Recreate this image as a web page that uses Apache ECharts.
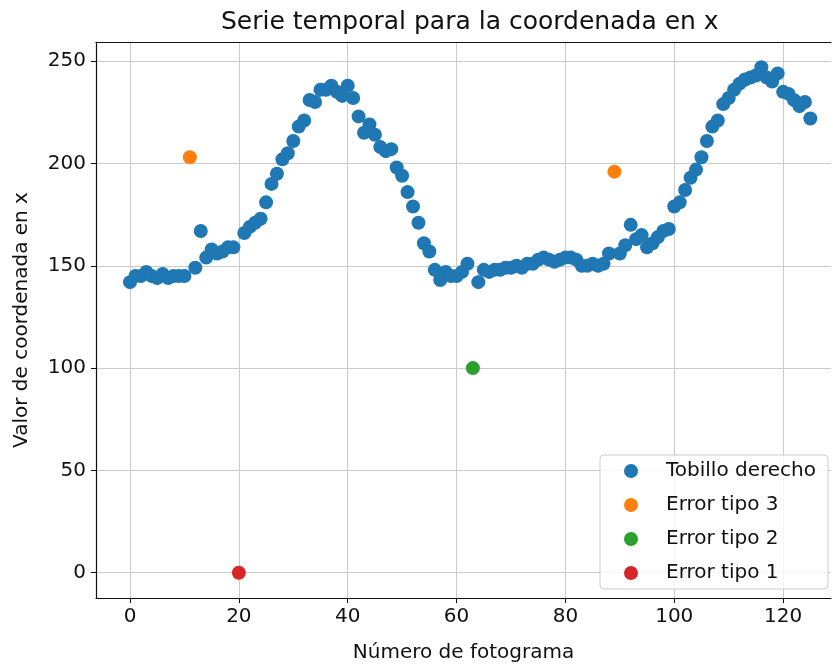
<!DOCTYPE html>
<html>
<head>
<meta charset="utf-8">
<script src="https://cdn.jsdelivr.net/npm/echarts@6/dist/echarts.min.js"></script>
<style>
  html, body { margin: 0; padding: 0; background: #fff; }
  #chart { width: 833px; height: 666px; }
</style>
</head>
<body>
<div id="chart"></div>
<script>
// Frame numbers and x coordinate of the right ankle
const tobilloFrames = [
  0, 1, 2, 3, 4, 5, 6, 7, 8, 9, 10,
  12, 13, 14, 15, 16, 17, 18, 19,
  21, 22, 23, 24, 25, 26, 27, 28, 29, 30, 31, 32, 33, 34, 35, 36, 37, 38, 39, 40,
  41, 42, 43, 44, 45, 46, 47, 48, 49, 50, 51, 52, 53, 54, 55, 56, 57, 58, 59, 60, 61, 62,
  64, 65, 66, 67, 68, 69, 70, 71, 72, 73, 74, 75, 76, 77, 78, 79, 80, 81, 82, 83, 84, 85, 86, 87, 88,
  90, 91, 92, 93, 94, 95, 96, 97, 98, 99, 100, 101, 102, 103, 104, 105, 106, 107, 108, 109, 110,
  111, 112, 113, 114, 115, 116, 117, 118, 119, 120, 121, 122, 123, 124, 125
];
const tobilloValues = [
  142, 145, 145, 147, 145, 144, 146, 144, 145, 145, 145,
  149, 167, 154, 158, 156, 157, 159, 159,
  166, 169, 171, 173, 181, 190, 195, 202, 205, 211, 218, 221, 231, 230, 236, 236, 238, 235, 233, 238,
  232, 223, 215, 219, 214, 208, 206, 207, 198, 194, 186, 179, 171, 161, 157, 148, 143, 147, 145, 145, 147, 151,
  142, 148, 147, 148, 148, 149, 149, 150, 149, 151, 151, 153, 154, 153, 152, 153, 154, 154, 153, 150, 150, 151, 150, 151, 156,
  156, 160, 170, 163, 165, 159, 161, 164, 167, 168, 179, 181, 187, 193, 197, 203, 211, 218, 221, 229, 232,
  236, 239, 241, 242, 243, 247, 242, 240, 244, 235, 234, 231, 228, 230, 222
];

// Flagged frames for each error type
const error3Frames = [11, 89];
const error3Values = [203, 196];
const error2Frames = [63];
const error2Values = [100];
const error1Frames = [20];
const error1Values = [0];

// Axis ticks
const xTicks = [0, 20, 40, 60, 80, 100, 120];
const yTicks = [0, 50, 100, 150, 200, 250];

const pairs = (xs, ys) => xs.map((x, i) => [x, ys[i]]);

const FONT = 'DejaVu Sans';
const INK = '#111';
const gridColor = '#cbcbcb';
const X_MIN = -6.25, X_MAX = 128.8;
const Y_MIN = -12.35, Y_MAX = 259.35;

const chart = echarts.init(document.getElementById('chart'), null, { renderer: 'canvas' });

const scatter = (name, color, xs, ys, z) => ({
  name,
  type: 'scatter',
  xAxisIndex: 0,
  yAxisIndex: 0,
  symbolSize: 14,
  itemStyle: { color, opacity: 1 },
  data: pairs(xs, ys),
  z
});

chart.setOption({
  backgroundColor: '#ffffff',
  animation: false,
  textStyle: { fontFamily: FONT },
  title: {
    text: 'Serie temporal para la coordenada en x',
    left: 216,
    top: 5,
    textStyle: { fontFamily: FONT, fontSize: 25, fontWeight: 'normal', color: INK }
  },
  grid: {
    left: 96,
    top: 42,
    width: 735,
    height: 556,
    outerBoundsMode: 'none',
    containLabel: false,
    show: false
  },
  legend: {
    orient: 'vertical',
    left: 600,
    top: 455,
    icon: 'circle',
    itemWidth: 60,
    itemHeight: 14,
    itemGap: 12,
    padding: [5, 12, 5, 24],
    backgroundColor: 'rgba(255,255,255,0.8)',
    borderColor: '#cccccc',
    borderWidth: 1,
    borderRadius: 4,
    textStyle: { fontFamily: FONT, fontSize: 20, color: INK, lineHeight: 22 },
    data: ['Tobillo derecho', 'Error tipo 3', 'Error tipo 2', 'Error tipo 1']
  },
  xAxis: [
    {
      type: 'value',
      min: X_MIN,
      max: X_MAX,
      name: 'Número de fotograma',
      nameLocation: 'middle',
      nameGap: 45,
      nameTextStyle: { fontFamily: FONT, fontSize: 20, color: INK },
      axisLine: { show: true, onZero: false, lineStyle: { color: INK, width: 1.2 } },
      axisTick: { show: true, customValues: xTicks, length: 5, lineStyle: { color: INK } },
      axisLabel: { customValues: xTicks, margin: 9, fontFamily: FONT, fontSize: 20, color: INK },
      splitLine: { show: true, lineStyle: { color: gridColor, width: 1 } }
    },
    {
      // top frame edge
      type: 'value',
      position: 'top',
      min: X_MIN,
      max: X_MAX,
      axisLine: { show: true, onZero: false, lineStyle: { color: INK, width: 1.2 } },
      axisTick: { show: false },
      axisLabel: { show: false },
      splitLine: { show: false }
    }
  ],
  yAxis: {
    type: 'value',
    min: Y_MIN,
    max: Y_MAX,
    name: 'Valor de coordenada en x',
    nameLocation: 'middle',
    nameGap: 64,
    nameTextStyle: { fontFamily: FONT, fontSize: 20, color: INK },
    axisLine: { show: true, onZero: false, lineStyle: { color: INK, width: 1.2 } },
    axisTick: { show: true, customValues: yTicks, length: 5, lineStyle: { color: INK } },
    axisLabel: { customValues: yTicks, margin: 10, fontFamily: FONT, fontSize: 20, color: INK },
    splitLine: { show: true, lineStyle: { color: gridColor, width: 1 } }
  },
  series: [
    scatter('Tobillo derecho', '#1f77b4', tobilloFrames, tobilloValues, 2),
    scatter('Error tipo 3', '#ff7f0e', error3Frames, error3Values, 3),
    scatter('Error tipo 2', '#2ca02c', error2Frames, error2Values, 4),
    scatter('Error tipo 1', '#d62728', error1Frames, error1Values, 5)
  ]
});
</script>
</body>
</html>
